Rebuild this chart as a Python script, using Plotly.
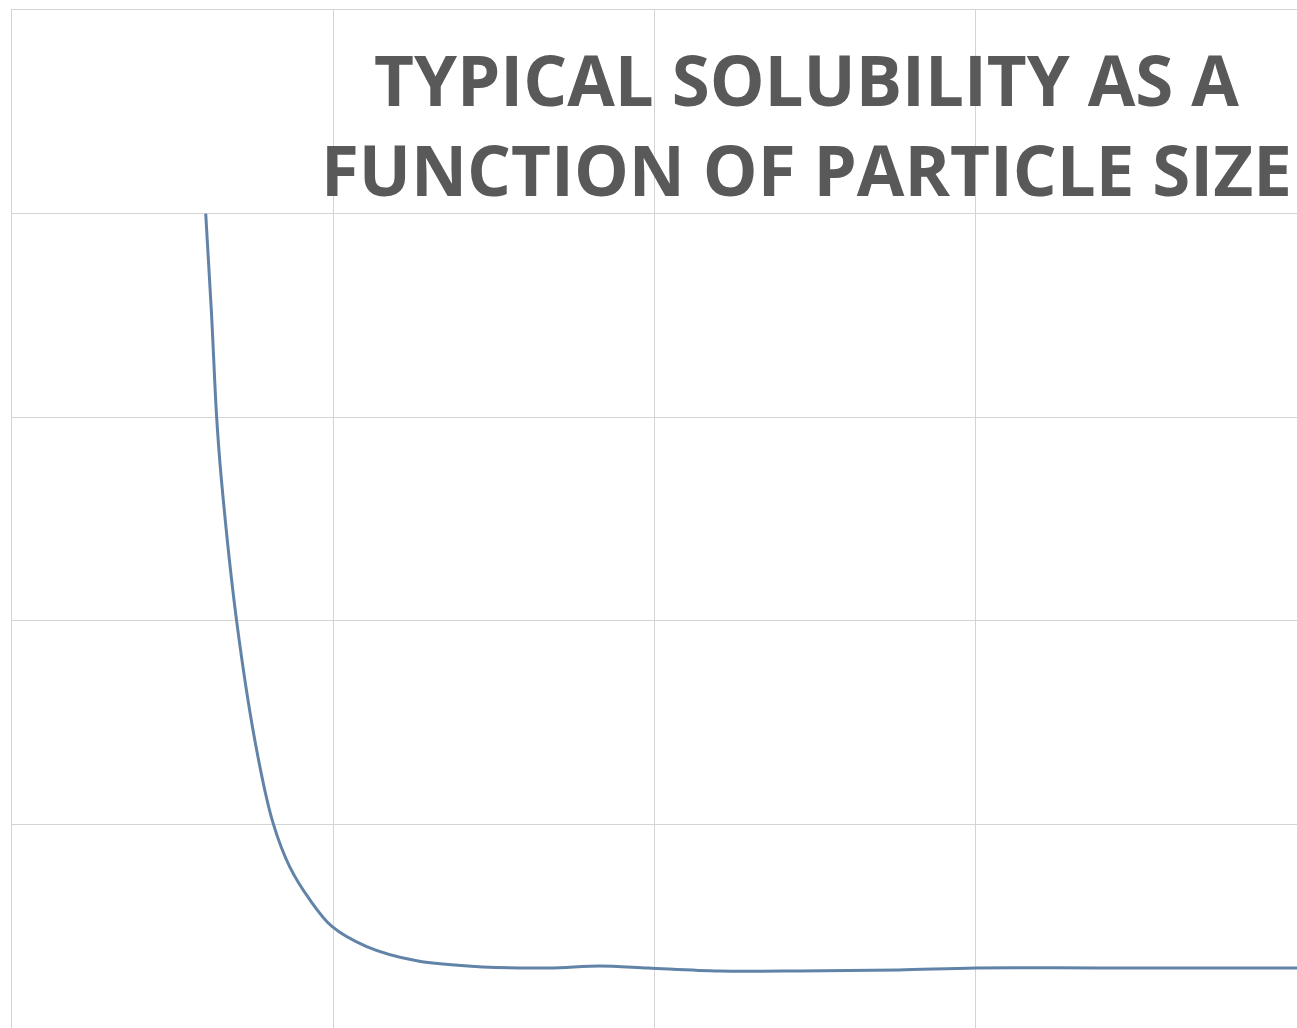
import plotly.graph_objects as go

# Particle size (x) and solubility (y)
particle_size = [0.603, 0.621, 0.637, 0.652, 0.700, 0.761, 0.812, 0.865, 0.927,
                 0.995, 1.104, 1.260, 1.465, 1.673, 1.830, 1.980, 2.200, 2.450,
                 2.760, 3.000, 3.380, 4.000]
solubility = [4.00, 3.51, 3.00, 2.69, 1.99, 1.37, 1.01, 0.79, 0.63,
              0.50, 0.40, 0.33, 0.30, 0.295, 0.305, 0.295, 0.28, 0.28,
              0.285, 0.295, 0.295, 0.295]

title_text = "TYPICAL SOLUBILITY AS A<br>FUNCTION OF PARTICLE SIZE"

fig = go.Figure()
fig.add_trace(go.Scatter(
    x=particle_size, y=solubility, mode="lines",
    line=dict(color="#6283a8", width=3, shape="spline", smoothing=0.9),
    showlegend=False, hoverinfo="skip",
))

grid = "#d4d4d4"
fig.update_layout(
    width=1297, height=1028,
    margin=dict(l=12, r=0, t=10, b=0),
    paper_bgcolor="white", plot_bgcolor="white",
    xaxis=dict(range=[0, 4.0], dtick=1, showgrid=True, gridcolor=grid, gridwidth=1,
               zeroline=False, showticklabels=False, ticks="",
               showline=True, linecolor=grid, mirror=True),
    yaxis=dict(range=[0, 5.0], dtick=1, showgrid=True, gridcolor=grid, gridwidth=1,
               zeroline=False, showticklabels=False, ticks="",
               showline=True, linecolor=grid, mirror=True),
    annotations=[dict(
        text=title_text, xref="paper", yref="paper", x=0.618, y=1.0,
        xanchor="center", yanchor="top", yshift=-20, showarrow=False,
        font=dict(family="Open Sans", size=69, color="#595959", weight="bold"),
    )],
)

fig.write_html("out.html")
